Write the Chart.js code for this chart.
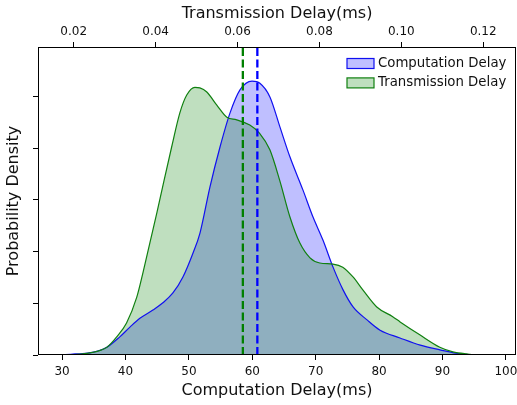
<!DOCTYPE html>
<html>
<head>
<meta charset="utf-8">
<script src="https://cdn.jsdelivr.net/npm/chart.js@4.4.1/dist/chart.umd.min.js"></script>
<style>
html, body { margin: 0; padding: 0; background: #fff; overflow: hidden; }
</style>
</head>
<body>
<canvas id="myChart" width="531" height="405"></canvas>
<script>
// computation delay (ms) and its density, bottom axis
const compX = [28.85, 29.95, 32.0, 34.37, 37.06, 39.1, 40.7, 42.27, 44.32, 45.9, 47.48, 49.06, 50.64, 51.75,
  53.32, 54.9, 56.48, 58.06, 59.96, 61.2, 62.8, 64.37, 65.95, 68.0, 69.58, 71.16, 72.74, 74.32, 75.9,
  78.1, 80.16, 83.3, 86.5, 89.6, 92.8, 95.5, 97.5];
const compY = [0, 0.00004, 0.0002, 0.0004, 0.0015, 0.0035, 0.0054, 0.0071, 0.0087, 0.0101, 0.0120, 0.0151, 0.0197, 0.0236,
  0.0325, 0.0402, 0.0468, 0.0513, 0.0530, 0.0526, 0.0499, 0.0441, 0.0383, 0.0319, 0.0267, 0.0222, 0.0170, 0.0126, 0.0093,
  0.0068, 0.0048, 0.0033, 0.0019, 0.0010, 0.0002, 0, 0];

// transmission delay (ms) and its density, top axis
const transX = [0.01536, 0.01707, 0.02024, 0.0239, 0.0281, 0.0305, 0.0329, 0.0354, 0.0369, 0.0386, 0.0403, 0.0417,
  0.0439, 0.0459, 0.0476, 0.0496, 0.0508, 0.0525, 0.0549, 0.0574, 0.0598, 0.0630, 0.0654, 0.0679, 0.0703, 0.0728,
  0.0752, 0.0777, 0.0801, 0.0833, 0.0857, 0.0882, 0.0906, 0.0940, 0.0979, 0.0997, 0.1045, 0.1094, 0.1126, 0.1160, 0.1192, 0.1216];
const transY = [0, 0.00004, 0.0001, 0.0004, 0.0015, 0.0035, 0.0062, 0.0112, 0.0159, 0.0217, 0.0275, 0.0325,
  0.0402, 0.0468, 0.0503, 0.0518, 0.0517, 0.0509, 0.0484, 0.0460, 0.0455, 0.0445, 0.0429, 0.0397, 0.0338, 0.0267,
  0.0217, 0.0188, 0.0178, 0.0176, 0.0170, 0.0151, 0.0126, 0.0093, 0.0074, 0.0064, 0.0039, 0.0015, 0.0006, 0.0002, 0, 0];

const compMean = 60.8;
const transMean = 0.0613;
const yMax = 0.0596;

const compRange = [26.2, 101.6];
const transRange = [0.01128, 0.128];

const seriesNames = ['Computation Delay', 'Transmission Delay'];
const lineColors = ['#1010f0', '#108010'];
const fillColors = ['rgba(0,0,255,0.25)', 'rgba(0,128,0,0.25)'];

const font = 'DejaVu Sans';

function pts(xs, ys) {
  return xs.map((x, i) => ({ x: x, y: ys[i] }));
}

// frame around plot + legend inside upper right
const framePlugin = {
  id: 'frame',
  afterDraw(chart) {
    const { ctx, chartArea: a } = chart;
    ctx.save();
    ctx.strokeStyle = '#000';
    ctx.lineWidth = 1;
    ctx.strokeRect(a.left + 0.5, a.top + 0.5, a.right - a.left - 1, a.bottom - a.top - 1);

    ctx.font = '13.3px "' + font + '"';
    ctx.textBaseline = 'middle';
    ctx.textAlign = 'left';
    const x0 = a.right - 169;
    seriesNames.forEach((name, i) => {
      const cy = a.top + 16.5 + i * 19.4;
      ctx.fillStyle = '#fff';
      ctx.fillRect(x0, cy - 5, 27, 10);
      ctx.fillStyle = fillColors[i];
      ctx.fillRect(x0, cy - 5, 27, 10);
      ctx.strokeStyle = lineColors[i];
      ctx.lineWidth = 1.2;
      ctx.strokeRect(x0, cy - 5, 27, 10);
      ctx.fillStyle = '#111';
      ctx.fillText(name, x0 + 31, cy);
    });
    ctx.restore();
  }
};

const ctx = document.getElementById('myChart').getContext('2d');
const myChart = new Chart(ctx, {
  type: 'line',
  data: {
    datasets: [
      {
        label: seriesNames[0],
        data: pts(compX, compY),
        xAxisID: 'x',
        borderColor: lineColors[0],
        backgroundColor: fillColors[0],
        borderWidth: 1.2,
        fill: 'origin',
        pointRadius: 0,
        cubicInterpolationMode: 'monotone',
        order: 3
      },
      {
        label: seriesNames[1],
        data: pts(transX, transY),
        xAxisID: 'x2',
        borderColor: lineColors[1],
        backgroundColor: fillColors[1],
        borderWidth: 1.2,
        fill: 'origin',
        pointRadius: 0,
        cubicInterpolationMode: 'monotone',
        order: 2
      },
      {
        label: 'transMean',
        data: [{ x: transMean, y: 0 }, { x: transMean, y: yMax }],
        xAxisID: 'x2',
        borderColor: '#008000',
        borderWidth: 2.3,
        borderDash: [8, 3.5],
        pointRadius: 0,
        fill: false,
        order: 1
      },
      {
        label: 'compMean',
        data: [{ x: compMean, y: 0 }, { x: compMean, y: yMax }],
        xAxisID: 'x',
        borderColor: '#0000ff',
        borderWidth: 2.3,
        borderDash: [8, 3.5],
        pointRadius: 0,
        fill: false,
        order: 0
      }
    ]
  },
  options: {
    responsive: false,
    animation: false,
    layout: { padding: { left: 0, right: 15, top: 0, bottom: 0 } },
    plugins: {
      legend: { display: false },
      tooltip: { enabled: false },
      filler: { drawTime: 'beforeDatasetsDraw' }
    },
    scales: {
      x: {
        type: 'linear',
        position: 'bottom',
        min: compRange[0],
        max: compRange[1],
        afterFit: s => { s.height = 50; },
        border: { display: false },
        grid: { drawOnChartArea: false, drawTicks: true, tickLength: 5, tickColor: '#000' },
        ticks: {
          stepSize: 10, includeBounds: false, padding: 5, color: '#111', maxRotation: 0,
          font: { family: font, size: 12 }
        },
        title: {
          display: true, text: 'Computation Delay(ms)', color: '#111',
          font: { family: font, size: 16 }, padding: { top: 0, bottom: 5 }
        }
      },
      x2: {
        type: 'linear',
        position: 'top',
        min: transRange[0],
        max: transRange[1],
        afterFit: s => { s.height = 47; },
        border: { display: false },
        grid: { drawOnChartArea: false, drawTicks: true, tickLength: 5, tickColor: '#000' },
        ticks: {
          stepSize: 0.02, includeBounds: false, padding: 3, color: '#111', maxRotation: 0,
          font: { family: font, size: 12 },
          callback: v => v.toFixed(2)
        },
        title: {
          display: true, text: 'Transmission Delay(ms)', color: '#111',
          font: { family: font, size: 16 }, padding: { top: 4.5, bottom: 0 }
        }
      },
      y: {
        type: 'linear',
        position: 'left',
        min: 0,
        max: yMax,
        afterFit: s => { s.width = 38; },
        border: { display: false },
        grid: { drawOnChartArea: false, drawTicks: true, tickLength: 5, tickColor: '#000' },
        ticks: { stepSize: 0.01, includeBounds: false, callback: () => '' },
        title: {
          display: true, text: 'Probability Density', color: '#111',
          font: { family: font, size: 16 }, padding: { top: 4.5, bottom: 0 }
        }
      }
    }
  },
  plugins: [framePlugin]
});
</script>
</body>
</html>
